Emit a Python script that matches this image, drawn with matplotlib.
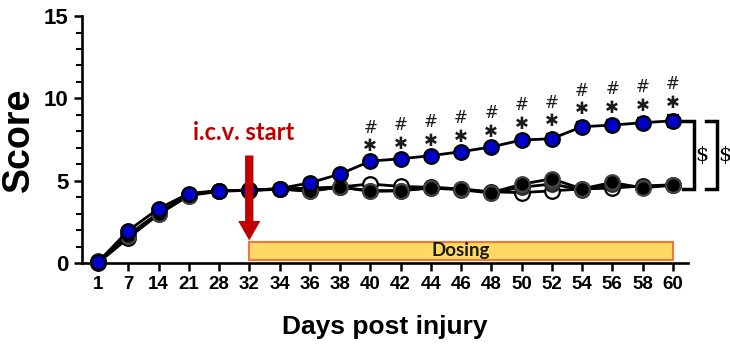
import matplotlib
matplotlib.use("Agg")
import matplotlib.pyplot as plt
import numpy as np
from matplotlib.ticker import MultipleLocator

# ---------------------------------------------------------------------------
# Data
# ---------------------------------------------------------------------------
days = [1, 7, 14, 21, 28, 32, 34, 36, 38, 40, 42, 44, 46, 48, 50, 52, 54, 56, 58, 60]
blue = [0.05, 1.97, 3.3, 4.22, 4.4, 4.42, 4.52, 4.87, 5.4, 6.19, 6.33, 6.52, 6.76,
        7.05, 7.47, 7.55, 8.28, 8.38, 8.52, 8.64]
blue_err = [0.05, 0.1, 0.1, 0.1, 0.1, 0.1, 0.1, 0.12, 0.15, 0.15, 0.15, 0.15, 0.15,
            0.18, 0.25, 0.3, 0.3, 0.3, 0.3, 0.35]
open_vals = [0.0, 1.52, 2.95, 4.1, 4.35, 4.42, 4.5, 4.55, 4.62, 4.8, 4.65, 4.6, 4.5,
             4.32, 4.28, 4.38, 4.5, 4.55, 4.68, 4.75]
black_vals = [0.05, 1.65, 3.0, 4.1, 4.4, 4.42, 4.5, 4.35, 4.62, 4.35, 4.38, 4.58, 4.5,
              4.28, 4.78, 5.12, 4.5, 4.9, 4.55, 4.75]
gray_vals = [0.1, 1.7, 3.05, 4.15, 4.4, 4.4, 4.48, 4.4, 4.6, 4.4, 4.4, 4.55, 4.45,
             4.25, 4.6, 4.8, 4.45, 4.8, 4.6, 4.72]
sig_days = [40, 42, 44, 46, 48, 50, 52, 54, 56, 58, 60]
dosing_start, dosing_end = 32, 60

x = np.arange(len(days))
idx = {d: i for i, d in enumerate(days)}

fig = plt.figure(figsize=(7.3, 3.5), dpi=100)
ax = fig.add_axes([0.1123, 0.2486, 0.83, 0.7054])

mk = dict(markersize=10.5, markeredgewidth=1.6, linewidth=2, clip_on=False)
ax.plot(x, open_vals, "-o", color="black", markerfacecolor="white",
        markeredgecolor="black", zorder=3, **mk)
ax.plot(x, gray_vals, "-o", color="black", markerfacecolor="#3c3c3c",
        markeredgecolor="#2a2a2a", zorder=4, **mk)
ax.errorbar(x, black_vals, yerr=0.12, fmt="-o", color="black", ecolor="#3a3a3a",
            elinewidth=2, capsize=4, capthick=2, markerfacecolor="black",
            markeredgecolor="#444444", zorder=5, **mk)
ax.errorbar(x, blue, yerr=blue_err, fmt="-o", color="black", ecolor="black",
            elinewidth=2, capsize=4, capthick=2, markerfacecolor="#0000c8",
            markeredgecolor="black", zorder=6, **mk)

# significance marks (# over *), one text per day
for d in sig_days:
    i = idx[d]
    top = blue[i] + blue_err[i]
    ax.text(i, top + 0.2, "#\n\u2731", ha="center", va="bottom", fontsize=12,
            linespacing=1.05, family="DejaVu Sans", color="#1a1a1a")

# dosing bar
x0, x1 = idx[dosing_start], idx[dosing_end]
ax.add_patch(plt.Rectangle((x0, 0.2), x1 - x0, 1.1, facecolor="#ffd966",
                           edgecolor="#f07838", linewidth=1.5, zorder=2))
ax.text((x0 + x1) / 2, 0.75, "Dosing", ha="center", va="center", fontsize=13.5,
        fontweight="bold", family="Lato", color="#1a1a1a", zorder=3)

# i.c.v. start arrow
ax.annotate("", xy=(x0, 1.2), xytext=(x0, 6.7),
            arrowprops=dict(arrowstyle="simple,head_width=1.6,head_length=1.4,tail_width=0.6",
                            color="#c00000", lw=0), zorder=7)
ax.text(x0 - 0.2, 7.95, "i.c.v. start", ha="center", va="center", fontsize=17,
        fontweight="bold", family="Lato", color="#c00000")

# brackets
for bx, sx in [(19.7, 19.95), (20.46, 20.72)]:
    ax.plot([bx - 0.35, bx, bx, bx - 0.35], [8.6, 8.6, 4.48, 4.48], color="black",
            linewidth=2.5, clip_on=False, solid_joinstyle="miter")
    ax.text(sx, 6.55, "$", ha="center", va="center", fontsize=15,
            family="DejaVu Serif", clip_on=False)

ax.set_xlim(-0.53, 19.5)
ax.set_ylim(0, 15)
ax.set_xticks(x)
ax.set_xticklabels([str(d) for d in days])
ax.yaxis.set_major_locator(MultipleLocator(5))
ax.yaxis.set_minor_locator(MultipleLocator(1))

for s in ["top", "right"]:
    ax.spines[s].set_visible(False)
for s in ["left", "bottom"]:
    ax.spines[s].set_linewidth(1.9)

ax.tick_params(axis="both", which="major", width=1.8, length=6, direction="out")
ax.tick_params(axis="y", which="minor", width=1.5, length=4)
for lab in ax.get_xticklabels():
    lab.set_fontfamily("Liberation Sans")
    lab.set_fontweight("bold")
    lab.set_fontsize(13.5)
for lab in ax.get_yticklabels():
    lab.set_fontfamily("Liberation Sans")
    lab.set_fontweight("bold")
    lab.set_fontsize(16)

ax.set_ylabel("Score", fontsize=27, fontweight="bold", family="Liberation Sans",
              labelpad=5)
ax.set_xlabel("Days post injury", fontsize=19, fontweight="bold",
              family="Liberation Sans", labelpad=16)

fig.savefig("out.png", dpi=100)
